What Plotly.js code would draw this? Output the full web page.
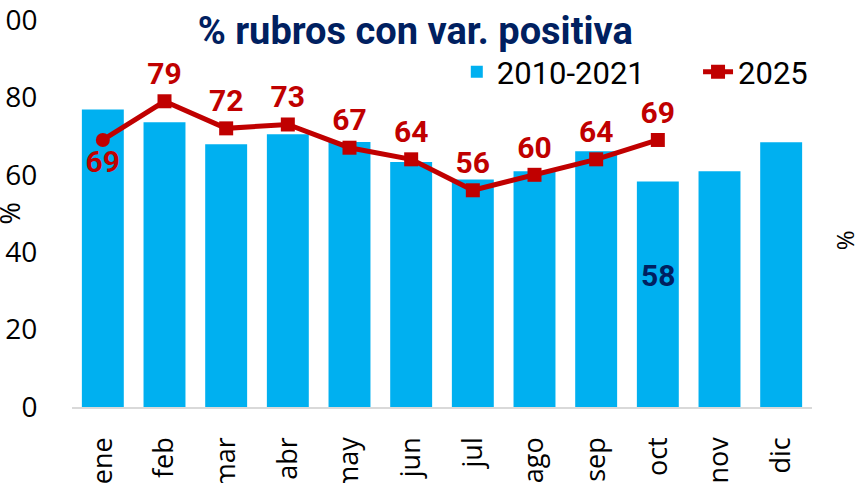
<!DOCTYPE html>
<html>
<head>
<meta charset="utf-8">
<script src="https://cdn.plot.ly/plotly-3.0.1.min.js"></script>
<style>html,body{margin:0;padding:0;background:#fff;}#chart{width:858px;height:483px;}</style>
</head>
<body>
<div id="chart"></div>
<script>
const months = ["ene","feb","mar","abr","may","jun","jul","ago","sep","oct","nov","dic"];
const hist = [76.9, 73.6, 67.9, 70.5, 68.5, 63.3, 58.8, 60.9, 66.1, 58.3, 60.9, 68.4];
const months2025 = ["ene","feb","mar","abr","may","jun","jul","ago","sep","oct"];
const y2025 = [69, 79, 72, 73, 67, 64, 56, 60, 64, 69];
const yTicks = [0, 20, 40, 60, 80, 100];
const barLabelMonth = "oct";

const red = "#C00000", blue = "#00B0F0", navy = "#002060";

const lineText = y2025.map(v => String(Math.round(v)));
const linePos = y2025.map((v, i) => i === 0 ? "bottom center" : "top center");
const lineSymbols = y2025.map((v, i) => i === 0 ? "circle" : "square");

const traces = [
  {
    type: "bar", x: months, y: hist, name: "2010-2021",
    marker: {color: blue}, hoverinfo: "skip", legend: "legend"
  },
  {
    type: "scatter", mode: "lines+markers+text", x: months2025, y: y2025,
    name: "2025", showlegend: false,
    line: {color: red, width: 5},
    marker: {color: red, size: 14, symbol: lineSymbols},
    text: lineText, textposition: linePos,
    textfont: {family: "Roboto", size: 30, color: red, weight: 700},
    cliponaxis: false
  },
  {
    type: "scatter", mode: "lines+markers", x: [null], y: [null],
    name: "2025", line: {color: red, width: 5},
    marker: {color: red, size: 14, symbol: "square"}, legend: "legend2"
  }
];

const legendFont = {family: "Roboto", size: 31, color: "#000"};
const bi = months.indexOf(barLabelMonth);
const layout = {
  width: 858, height: 483,
  margin: {l: 72, r: 46, t: 20, b: 76, pad: 0},
  paper_bgcolor: "#fff", plot_bgcolor: "#fff",
  showlegend: true,
  bargap: 0.32,
  font: {family: "Open Sans", size: 26, color: "#000"},
  title: {
    text: "% rubros con var. positiva",
    font: {family: "Roboto", size: 38, color: navy, weight: 700},
    x: 0.484, xanchor: "center", y: 0.936, yanchor: "middle", xref: "container", yref: "container"
  },
  legend: {
    orientation: "h", x: 0.52, xanchor: "left", y: 0.935, yanchor: "top",
    font: legendFont, bgcolor: "rgba(0,0,0,0)"
  },
  legend2: {
    orientation: "h", x: 0.846, xanchor: "left", y: 0.935, yanchor: "top",
    font: legendFont, bgcolor: "rgba(0,0,0,0)"
  },
  xaxis: {
    type: "category", categoryorder: "array", categoryarray: months,
    range: [-0.5, months.length - 0.5],
    tickangle: -90, showgrid: false, zeroline: false,
    showline: true, linecolor: "#D9D9D9", linewidth: 1.5,
    ticks: "outside", ticklen: 18, tickcolor: "rgba(0,0,0,0)",
    tickfont: {family: "Open Sans", size: 27, color: "#000"},
    automargin: false, fixedrange: true, ticklabeloverflow: "allow"
  },
  yaxis: {
    range: [0, 100], tickvals: yTicks, showgrid: false, zeroline: false,
    showline: false,
    ticks: "outside", ticklen: 28, tickcolor: "rgba(0,0,0,0)",
    tickfont: {family: "Open Sans", size: 28, color: "#000"},
    automargin: false, fixedrange: true, ticklabeloverflow: "allow"
  },
  annotations: [
    {
      xref: "x", yref: "y", x: months[bi], y: 34,
      text: String(Math.round(hist[bi])), showarrow: false,
      font: {family: "Roboto", size: 30, color: navy, weight: 700}
    },
    {
      xref: "paper", yref: "paper", x: -0.085, y: 0.5, xanchor: "center", yanchor: "middle",
      text: "%", textangle: -90, showarrow: false,
      font: {family: "Open Sans", size: 27, color: "#000"}
    },
    {
      xref: "paper", yref: "paper", x: 1.044, y: 0.43, xanchor: "center", yanchor: "middle",
      text: "%", textangle: -90, showarrow: false,
      font: {family: "Open Sans", size: 24, color: "#000"}
    }
  ]
};

Plotly.newPlot("chart", traces, layout, {displayModeBar: false, staticPlot: true});
</script>
</body>
</html>
